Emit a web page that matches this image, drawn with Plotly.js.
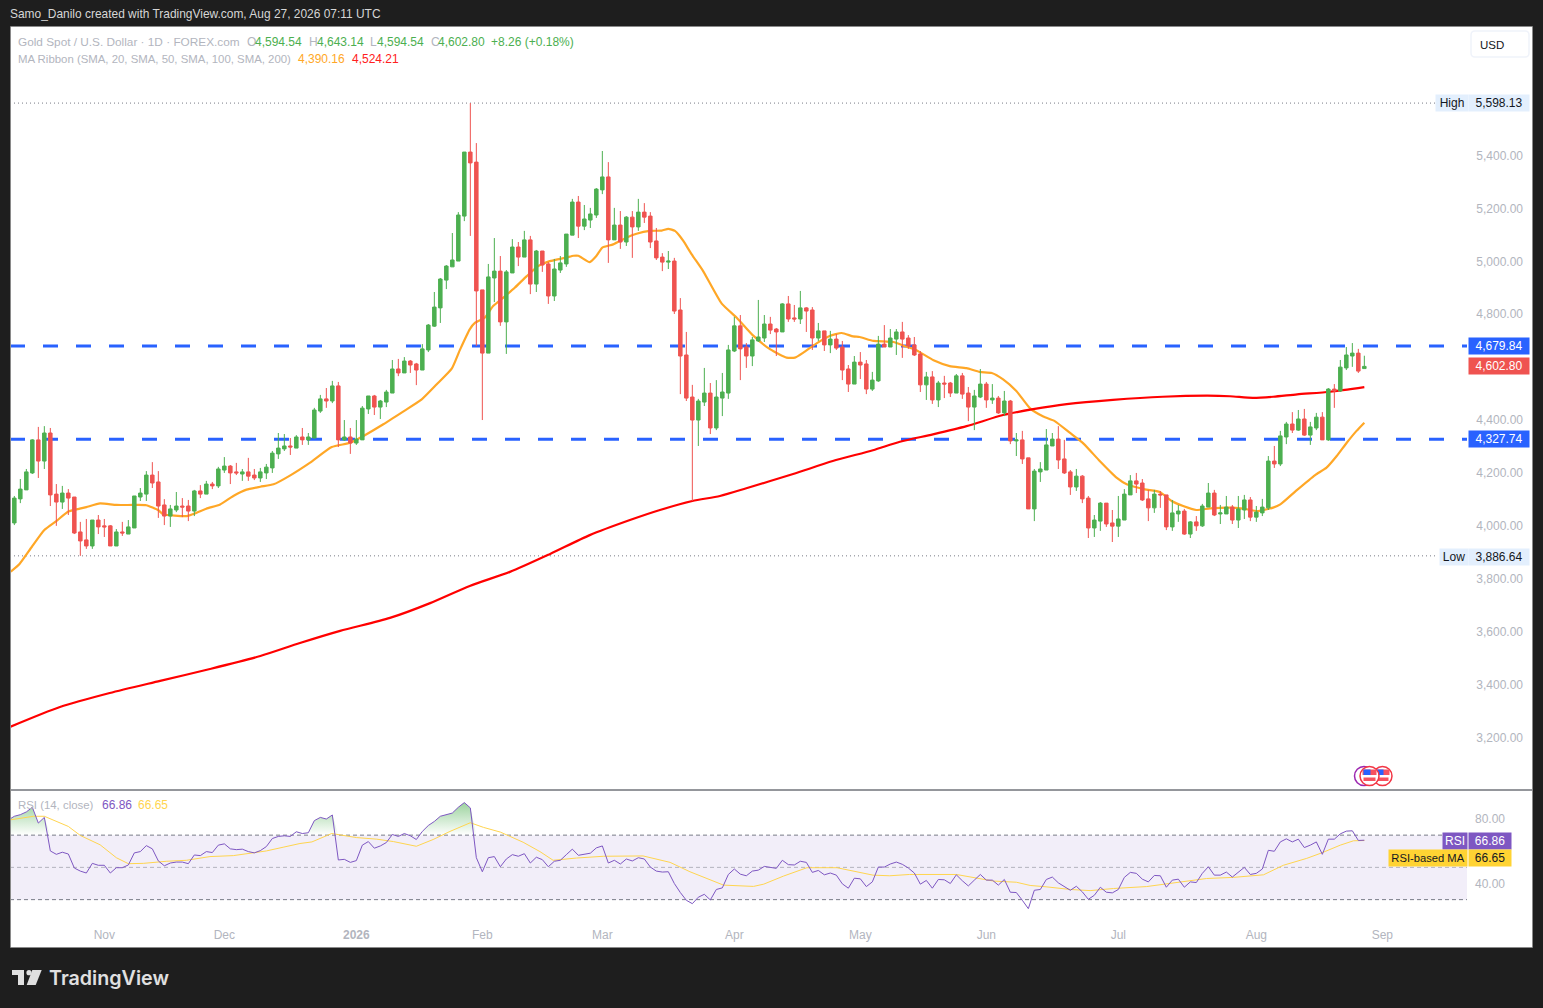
<!DOCTYPE html>
<html><head><meta charset="utf-8">
<script src="https://cdn.plot.ly/plotly-3.0.1.min.js"></script>
<style>html,body{margin:0;padding:0;background:#1e1e1e;overflow:hidden}#c{width:1543px;height:1008px}</style>
</head><body><div id="c"></div>
<script>
const open_ = [4011,4102,4136,4200,4325,4245,4351,4120,4090,4124,
4109,3977,3947,3924,4022,4000,4000,3924,3977,3969,
3992,4109,4120,4192,4166,4079,4037,4060,4075,4075,
4056,4132,4120,4158,4151,4211,4226,4204,4196,4204,
4192,4181,4200,4219,4272,4291,4302,4294,4336,4325,
4332,4434,4480,4472,4529,4325,4336,4313,4325,4442,
4491,4449,4468,4502,4593,4578,4623,4612,4589,4665,
4755,4824,4929,4979,5001,5171,5413,5375,4892,4653,
4937,4963,4771,4956,5054,5016,5081,4914,5039,4990,
4869,4967,4990,5099,5224,5133,5156,5175,5270,5319,
5081,5137,5073,5167,5130,5186,5171,5077,5016,4997,
5001,4816,4646,4487,4400,4468,4502,4370,4483,4502,
4661,4756,4676,4642,4699,4710,4763,4744,4733,4839,
4786,4782,4824,4816,4710,4737,4684,4706,4676,4593,
4536,4619,4612,4517,4548,4687,4676,4706,4733,4710,
4684,4650,4533,4563,4476,4540,4540,4502,4567,4502,
4449,4487,4536,4476,4483,4427,4472,4321,4325,4257,
4064,4204,4211,4302,4328,4253,4204,4147,4188,4105,
3992,4018,4086,4011,3999,4022,4117,4170,4162,4102,
4068,4120,4117,3996,4045,4056,3969,4015,4000,4071,
4124,4045,4045,4071,4022,4060,4098,4033,4049,4068,
4245,4234,4336,4385,4362,4404,4343,4370,4411,4325,
4517,4510,4597,4642,4653,4594.54];
const high_ = [4113,4177,4215,4328,4374,4377,4370,4158,4151,4139,
4109,4015,4026,4022,4041,4026,4003,3988,4015,4022,
4113,4143,4207,4241,4207,4101,4079,4128,4105,4098,
4136,4154,4170,4166,4223,4260,4230,4238,4215,4257,
4215,4219,4234,4283,4351,4347,4332,4343,4370,4351,
4446,4495,4521,4548,4544,4400,4370,4400,4453,4491,
4495,4476,4514,4627,4631,4638,4627,4616,4687,4763,
4884,4937,4986,5107,5186,5413,5598.13,5447,4892,4990,
5088,5020,4967,5084,5073,5115,5096,5043,5039,4997,
5009,5020,5103,5236,5247,5213,5202,5277,5417,5375,
5202,5190,5171,5190,5236,5220,5186,5126,5031,5039,
5013,4861,4733,4533,4480,4597,4540,4551,4578,4684,
4790,4797,4691,4714,4854,4797,4790,4748,4842,4869,
4835,4888,4827,4827,4767,4737,4737,4725,4699,4608,
4642,4657,4627,4582,4718,4759,4744,4744,4771,4721,
4714,4661,4582,4585,4548,4567,4544,4574,4578,4525,
4514,4593,4544,4536,4491,4510,4476,4351,4359,4257,
4215,4241,4366,4351,4377,4325,4211,4215,4192,4113,
4041,4090,4086,4060,4113,4139,4192,4200,4177,4136,
4136,4132,4117,4098,4079,4064,4018,4037,4083,4162,
4136,4079,4113,4079,4113,4117,4109,4075,4102,4264,
4302,4359,4393,4430,4438,4442,4393,4427,4430,4521,
4536,4627,4676,4691,4669,4643.14];
const low_ = [4003,4086,4136,4196,4181,4215,4075,4000,4064,4041,
3969,3886.64,3913,3913,3969,3958,3924,3924,3962,3969,
3992,4094,4094,4143,4030,4003,3996,4052,4033,4018,
4037,4105,4120,4139,4143,4200,4158,4192,4170,4170,
4173,4166,4177,4200,4253,4283,4268,4294,4306,4306,
4332,4427,4446,4464,4298,4321,4272,4306,4325,4423,
4419,4404,4449,4502,4566,4578,4578,4532,4589,4657,
4752,4767,4895,4979,5001,5152,5096,4680,4400,4653,
4846,4756,4650,4956,4982,5016,4876,4884,4960,4839,
4850,4956,4979,5099,5088,5118,5126,5164,5254,4994,
5081,5047,5058,5013,5115,5145,5050,5005,4963,4971,
4801,4498,4472,4094,4302,4453,4347,4362,4415,4480,
4657,4551,4597,4604,4695,4695,4725,4642,4733,4771,
4771,4763,4733,4665,4699,4661,4653,4665,4551,4506,
4536,4555,4498,4510,4544,4676,4676,4646,4635,4669,
4642,4506,4476,4461,4449,4483,4487,4502,4480,4396,
4362,4483,4446,4461,4423,4415,4309,4264,4234,4064,
4018,4166,4211,4302,4215,4196,4117,4132,4086,3954,
3958,3981,3996,3939,3958,4022,4117,4124,4094,4018,
4049,4068,3984,3981,4015,3966,3954,3981,3996,4071,
4037,4007,4045,4007,3992,4026,4018,4015,4037,4060,
4219,4226,4309,4351,4359,4340,4306,4362,4325,4321,
4446,4506,4589,4601,4578,4594.54];
const close_ = [4105,4139,4204,4325,4245,4351,4117,4090,4124,4105,
3973,3943,3924,4022,3996,3996,3924,3977,3973,3996,
4113,4124,4192,4162,4075,4037,4064,4075,4071,4056,
4132,4120,4158,4151,4215,4226,4200,4200,4204,4188,
4181,4204,4222,4275,4294,4302,4298,4336,4325,4336,
4438,4480,4472,4529,4325,4336,4313,4328,4445,4491,
4449,4472,4506,4593,4578,4623,4608,4589,4669,4759,
4827,4933,4982,5005,5175,5413,5372,4888,4653,4941,
4963,4771,4960,5054,5016,5081,4914,5039,4986,4869,
4971,4994,5103,5224,5133,5160,5179,5273,5319,5081,
5137,5073,5167,5130,5186,5167,5073,5013,4997,5001,
4812,4642,4483,4400,4472,4502,4370,4487,4506,4665,
4756,4669,4642,4703,4714,4763,4740,4733,4839,4782,
4782,4824,4812,4710,4737,4684,4706,4672,4589,4536,
4619,4608,4517,4551,4687,4676,4710,4733,4706,4680,
4646,4533,4563,4476,4540,4536,4502,4567,4498,4449,
4491,4536,4476,4483,4427,4472,4321,4325,4253,4064,
4207,4215,4306,4328,4249,4200,4147,4188,4102,3992,
4022,4086,4007,3999,4026,4120,4170,4158,4098,4068,
4120,4117,3996,4049,4056,3969,4015,4000,4075,4124,
4041,4049,4071,4022,4064,4098,4033,4052,4071,4245,
4234,4340,4385,4362,4404,4343,4374,4411,4325,4517,
4510,4600,4646,4653,4585,4602.80];

const ma50Bar = [-0.6,0.9,2.9,5,7,9,10.9,12,14.3,17,19.8,22,24,24.8,28.7,30.1,32,34.3,36.5,38.7,41,43.2,46,49.3,52.9,56,58.2,61.5,64.8,67.9,70.4,72.9,74.3,75.9,76.8,78.4,79.8,81.5,83.4,85.4,87.3,89,92,93.2,94,95.9,97,98,99.8,102,103.7,105.9,107.9,109,110.1,110.9,111.5,112.9,114.8,117.9,120.4,123.2,126,128.7,130.1,131.5,133.7,135.9,137.9,139.8,140.9,143.2,146.5,148.7,150.1,153.2,155.9,158.7,160.9,162.9,164.8,167,169.3,171.5,173.4,175.9,178.2,180.9,183.7,185.4,188.4,190.9,192.9,194.8,197,199.3,202.6,204.8,207.3,209.8,211,213.7,216.8,218.7,220.4,222.1,223.7,225];
const ma50Val = [3827,3857,3920,3984,4018,4054,4065,4071,4085,4079,4079,4078,4059,4044,4037,4047,4065,4081,4113,4137,4148,4157,4191,4239,4298,4314,4340,4384,4432,4478,4535,4594,4667,4743,4768,4787,4831,4863,4900,4944,4982,4999,5014,5021,5021,4997,5020,5052,5064,5089,5104,5115,5116,5123,5115,5096,5077,5026,4963,4840,4787,4718,4667,4636,4636,4655,4690,4718,4729,4716,4714,4699,4695,4677,4667,4626,4604,4596,4582,4578,4554,4510,4444,4413,4396,4352,4311,4245,4182,4157,4138,4128,4094,4075,4060,4066,4069,4065,4056,4069,4081,4134,4192,4220,4264,4315,4359,4390.16];
const ma200Bar = [-0.7,7.6,15.9,24.3,32.6,41,47.6,54.3,62.6,69.3,75.9,82.6,89.3,95.9,102.6,107.6,113,117.6,122,129.8,136.4,143.1,147.6,153.1,158.7,164.8,169.8,175.4,183.1,191.4,198.8,202.6,206.4,209.8,213.8,219.3,225];
const ma200Val = [3240,3315,3368,3414,3459,3508,3557,3603,3652,3708,3773,3826,3894,3965,4022,4060,4094,4113,4142,4196,4245,4286,4318,4346,4377,4419,4441,4460,4476,4488,4492,4490,4484,4488,4497,4507,4524.21];

const rsiVal = [79.4,81.7,82.7,84.4,87.3,77.5,81.0,60.2,58.1,59.4,58.3,49.6,47.7,46.5,52.5,51.3,51.3,46.5,49.8,49.8,51.5,59.0,59.8,63.5,61.5,54.0,51.0,52.7,53.3,53.3,52.3,57.7,57.3,59.8,59.2,63.8,64.6,61.5,61.0,61.3,59.8,59.0,60.4,62.9,67.9,69.2,69.6,69.2,72.1,71.0,71.5,79.0,81.0,80.0,82.5,54.6,55.0,53.1,54.2,63.8,66.0,61.9,63.3,65.4,70.4,69.2,71.0,69.6,67.3,72.3,76.0,78.5,81.7,82.9,83.7,87.3,90.2,86.9,56.0,47.3,56.0,56.7,50.4,55.2,57.9,56.9,58.5,52.7,56.3,54.8,50.4,53.8,54.4,57.9,61.3,57.5,58.1,58.8,62.1,63.3,52.7,54.4,52.1,55.2,54.0,56.0,55.2,50.2,47.7,47.1,47.3,40.0,34.4,29.6,27.5,31.5,33.3,29.8,36.3,37.3,45.6,49.0,45.8,44.8,47.7,48.3,50.6,49.8,49.4,54.4,51.7,51.5,53.8,53.1,46.9,48.1,45.4,46.5,45.2,39.8,37.1,43.3,42.9,38.1,41.0,50.2,50.2,52.1,53.3,51.9,49.6,46.5,39.6,41.9,37.1,42.5,42.3,40.0,45.4,41.7,38.5,42.1,45.6,42.1,42.1,39.0,42.5,34.6,34.4,29.6,24.4,35.8,36.3,42.5,44.0,40.4,37.9,35.8,38.3,34.8,30.2,32.7,37.7,34.6,34.2,36.3,43.8,46.9,46.3,42.7,41.0,45.0,44.8,37.7,42.1,42.7,37.7,41.0,40.6,46.3,50.4,45.2,45.2,47.1,44.0,47.1,50.0,45.6,46.3,49.0,60.6,60.0,65.8,67.7,65.8,67.5,62.3,63.8,65.8,58.1,67.5,67.5,70.8,72.5,72.7,66.7,66.86];
const rsiMaBar = [-1,3.2,5,9,11,14.3,17,19,21.5,25.4,28.7,32.6,36.5,39.8,42,44.8,47.6,49.6,52.9,57,60.4,63.2,67,69.8,72.6,76,78.2,81,84.8,87.6,89.8,93.7,98.2,104.8,109.3,112.6,118.2,123.2,124.9,128.2,132.1,137.1,139.8,143.1,145.9,149.2,157,160.4,163.2,167,169.3,172.1,176,179.3,183.2,188.7,193.7,198.7,203.2,208.2,211.5,215.4,217.9,221,223.2,225];
const rsiMaVal = [79.3,81.7,81.7,75.4,69.8,64.0,56.0,52.3,52.5,53.8,54.4,56.7,57.3,59.0,60.2,62.5,64.8,65.8,71.0,68.5,67.5,66.0,63.1,67.3,72.3,77.7,74.8,71.9,65.6,59.8,54.4,55.8,56.9,57.1,53.1,47.3,39.0,38.2,39.6,44.6,49.8,49.8,47.7,45.2,44.8,45.6,45.6,43.3,41.5,40.8,38.8,37.9,36.3,35.6,36.9,38.1,40.8,43.1,43.8,45.4,51.3,55.6,59.0,63.8,66.5,66.65];

const resistance = 4679.84, support = 4327.74, highPrice = 5598.13, lowPrice = 3886.64;
const rsiLevels = [70, 50, 30];
const priceTicks = [5400,5200,5000,4800,4400,4200,4000,3800,3600,3400,3200];
const priceTickText = ["5,400.00","5,200.00","5,000.00","4,800.00","4,400.00","4,200.00","4,000.00","3,800.00","3,600.00","3,400.00","3,200.00"];
const rsiTicks = [80, 40];
const rsiTickText = ["80.00","40.00"];
const monthBars = [15,35,57,78,98,120,141,162,184,207,228];
const monthText = ["Nov","Dec","<b>2026</b>","Feb","Mar","Apr","May","Jun","Jul","Aug","Sep"];

const W=1543,H=1008,L=11,R=1532,T=27,B=947,SPLIT=790,PW=R-L,PH=B-T;
const fx=p=>(p-L)/PW, fy=p=>1-(p-T)/PH;
const FONT='"Liberation Sans", Arial, sans-serif';
const barAtPx=p=>(p-14.33)/6;
const xRange=[barAtPx(L),barAtPx(R)];
const leftBar=barAtPx(10), paneEnd=barAtPx(1467), dotEnd=barAtPx(1435);
const priceRange=[5400-(SPLIT-155.5)*3.7801,5400+(155.5-T)*3.7801];
const bars=open_.map((_,i)=>i);
const rsiBars=rsiVal.map((_,i)=>i-1);
const GREEN='#4CAF50',RED='#EF5350',BLUE='#2962FF',ORANGE='#FFA726',RED2='#FF0000',PURPLE='#7E57C2',YEL='#FFD54F',GRAY='#B2B5BE';

const traces=[
 {type:'scatter',mode:'lines',x:[leftBar,paneEnd],y:[resistance,resistance],xaxis:'x',yaxis:'y',line:{color:BLUE,width:3,dash:'15px,18px'}},
 {type:'scatter',mode:'lines',x:[leftBar,paneEnd],y:[support,support],xaxis:'x',yaxis:'y',line:{color:BLUE,width:3,dash:'15px,18px'}},
 {type:'scatter',mode:'lines',x:[leftBar,dotEnd],y:[highPrice,highPrice],xaxis:'x',yaxis:'y',line:{color:'#787B86',width:1,dash:'1px,3px'}},
 {type:'scatter',mode:'lines',x:[leftBar,dotEnd],y:[lowPrice,lowPrice],xaxis:'x',yaxis:'y',line:{color:'#787B86',width:1,dash:'1px,3px'}},
 {type:'scatter',mode:'lines',x:ma50Bar,y:ma50Val,xaxis:'x',yaxis:'y',line:{color:ORANGE,width:2.2,shape:'spline',smoothing:0.5}},
 {type:'scatter',mode:'lines',x:ma200Bar,y:ma200Val,xaxis:'x',yaxis:'y',line:{color:RED2,width:2.2,shape:'spline',smoothing:0.7}},
 {type:'candlestick',x:bars,open:open_,high:high_,low:low_,close:close_,xaxis:'x',yaxis:'y3',whiskerwidth:0,
  increasing:{line:{color:GREEN,width:1},fillcolor:GREEN},decreasing:{line:{color:RED,width:1},fillcolor:RED}},
 {type:'scatter',mode:'lines',x:rsiBars,y:rsiVal.map(()=>rsiLevels[0]),xaxis:'x',yaxis:'y2',line:{width:0},fill:'none'},
 {type:'scatter',mode:'lines',x:rsiBars,y:rsiVal.map(v=>Math.max(v,rsiLevels[0])),xaxis:'x',yaxis:'y2',line:{width:0},fill:'tonexty',
  fillgradient:{type:'vertical',start:90,stop:70,colorscale:[[0,'rgba(76,175,80,0.55)'],[1,'rgba(76,175,80,0)']]}},
 {type:'scatter',mode:'lines',x:rsiMaBar,y:rsiMaVal,xaxis:'x',yaxis:'y2',line:{color:YEL,width:1}},
 {type:'scatter',mode:'lines',x:rsiBars,y:rsiVal,xaxis:'x',yaxis:'y2',line:{color:PURPLE,width:1}}
];

const pxRect=(x0,y0,x1,y1,fill,line,lw)=>({type:'rect',xref:'paper',yref:'paper',x0:fx(x0),x1:fx(x1),y0:fy(y0),y1:fy(y1),fillcolor:fill,line:{color:line||fill,width:lw===undefined?0:lw},layer:'above'});
const pxPath=(pts,fill)=>({type:'path',xref:'paper',yref:'paper',path:'M'+pts.map(p=>fx(p[0])+','+fy(p[1])).join('L')+'Z',fillcolor:fill,line:{width:0},layer:'above'});
const pxCircle=(cx,cy,r,fill,line,lw)=>({type:'circle',xref:'paper',yref:'paper',x0:fx(cx-r),x1:fx(cx+r),y0:fy(cy+r),y1:fy(cy-r),fillcolor:fill,line:{color:line,width:lw},layer:'above'});
function roundBox(x0,y0,x1,y1,r,line){
  const P=(x,y)=>fx(x)+','+fy(y);
  return {type:'path',xref:'paper',yref:'paper',layer:'above',fillcolor:'#ffffff',line:{color:line,width:1.5},
   path:`M${P(x0+r,y0)}L${P(x1-r,y0)}Q${P(x1,y0)} ${P(x1,y0+r)}L${P(x1,y1-r)}Q${P(x1,y1)} ${P(x1-r,y1)}L${P(x0+r,y1)}Q${P(x0,y1)} ${P(x0,y1-r)}L${P(x0,y0+r)}Q${P(x0,y0)} ${P(x0+r,y0)}Z`};
}
function flag(cx,cy,ring){
  return [pxCircle(cx,cy,9.5,'#ffffff',ring,1.5),
    pxRect(cx-7,cy-6.5,cx+7,cy-1,'#F7525F'),
    pxRect(cx-6,cy-6.5,cx+1,cy-0.5,BLUE),
    pxRect(cx-7,cy-1,cx+7,cy+1.5,'#ffffff'),
    pxRect(cx-6,cy+1.5,cx+6,cy+5,'#F7525F')];
}
const shapes=[
 {type:'rect',xref:'x',yref:'y2',x0:leftBar,x1:paneEnd,y0:rsiLevels[2],y1:rsiLevels[0],fillcolor:'rgba(126,87,194,0.1)',line:{width:0},layer:'below'},
 {type:'line',xref:'x',yref:'y2',x0:leftBar,x1:paneEnd,y0:rsiLevels[0],y1:rsiLevels[0],line:{color:'#787B86',width:1,dash:'4px,3px'},layer:'below'},
 {type:'line',xref:'x',yref:'y2',x0:leftBar,x1:paneEnd,y0:rsiLevels[1],y1:rsiLevels[1],line:{color:'rgba(120,123,134,0.5)',width:1,dash:'4px,3px'},layer:'below'},
 {type:'line',xref:'x',yref:'y2',x0:leftBar,x1:paneEnd,y0:rsiLevels[2],y1:rsiLevels[2],line:{color:'#787B86',width:1,dash:'4px,3px'},layer:'below'},
 {type:'line',xref:'paper',yref:'paper',x0:0,x1:1,y0:fy(SPLIT),y1:fy(SPLIT),line:{color:'#2A2E39',width:1},layer:'above'},
 {type:'rect',xref:'paper',yref:'paper',x0:fx(10.5),x1:fx(1532.5),y0:fy(947.5),y1:fy(26.5),fillcolor:'rgba(0,0,0,0)',line:{color:'#8a8a8a',width:1},layer:'above'},
 roundBox(1471,31,1529,57,4,'#F0F3FA'),
 pxCircle(1364,776,9.5,'#ffffff','#9C27B0',1.5),
 ...flag(1382.5,776,'#F23645'),
 ...flag(1369.5,776,'#F23645'),
 pxPath([[12,970],[24,970],[24,985],[18,985],[18,975],[12,975]],'#E0E0E0'),
 pxCircle(29,972.7,2.6,'#E0E0E0','#E0E0E0',0),
 pxPath([[32.3,970],[41.7,970],[35.7,985],[26.7,985]],'#E0E0E0')
];
const T_=(x,y,text,color,size,extra)=>Object.assign({xref:'paper',yref:'paper',x:fx(x),y:fy(y),text,showarrow:false,xanchor:'left',yanchor:'middle',
  font:{family:FONT,size:size||12,color},borderpad:0},extra||{});
const TAG=(x0,x1,yc,h,text,bg,color,size)=>({xref:'paper',yref:'paper',x:fx(x0),y:fy(yc),text,showarrow:false,xanchor:'left',yanchor:'middle',
  width:x1-x0,height:h,bgcolor:bg,font:{family:FONT,size:size||12,color},align:'center',borderpad:0,valign:'middle'});
const annotations=[
 T_(9,14,'Samo_Danilo created with TradingView.com, Aug 27, 2026 07:11 UTC','#D6D6D6',11.95),
 T_(17,42,'Gold Spot / U.S. Dollar · 1D · FOREX.com',GRAY,11.8),
 T_(246,42,'O',GRAY),T_(254,42,'4,594.54',GREEN),
 T_(308,42,'H',GRAY),T_(316,42,'4,643.14',GREEN),
 T_(369,42,'L',GRAY),T_(376,42,'4,594.54',GREEN),
 T_(430,42,'C',GRAY),T_(437,42,'4,602.80',GREEN),
 T_(490,42,'+8.26 (+0.18%)',GREEN),
 T_(17,59,'MA Ribbon (SMA, 20, SMA, 50, SMA, 100, SMA, 200)',GRAY,11.4),
 T_(297,59,'4,390.16',ORANGE),T_(351,59,'4,524.21','#FF2020'),
 T_(1479,44.5,'USD','#131722',11.5),
 T_(17,805,'RSI (14, close)',GRAY,11.4),T_(101,805,'66.86',PURPLE),T_(137,805,'66.65',YEL),
 TAG(1435,1467,103,16,'High','#E3EFFD','#131722'),
 TAG(1468,1528,103,16,'5,598.13','#E3EFFD','#131722'),
 TAG(1439,1467,556.5,16,'Low','#E3EFFD','#131722'),
 TAG(1468,1528,556.5,16,'3,886.64','#E3EFFD','#131722'),
 TAG(1468,1528,346,16,'4,679.84',BLUE,'#ffffff'),
 TAG(1468,1528,366,16,'4,602.80',RED,'#ffffff'),
 TAG(1468,1528,439,16,'4,327.74',BLUE,'#ffffff'),
 TAG(1442,1466,841,16,'RSI',PURPLE,'#ffffff'),
 TAG(1468,1510,841,16,'66.86',PURPLE,'#ffffff'),
 TAG(1388,1466,858,16,'RSI-based MA','#FFD333','#131722',11.2),
 TAG(1468,1510,858,16,'66.65','#FFD333','#131722'),
 {xref:'paper',yref:'paper',x:fx(47),y:fy(978),text:'TradingView',showarrow:false,xanchor:'left',yanchor:'middle',
  font:{family:'Inter, Roboto, sans-serif',size:19.7,color:'#E0E0E0',weight:600}}
];
const split=(B-SPLIT)/PH;
const layout={
 width:W,height:H,margin:{l:L,r:W-R,t:T,b:H-B,pad:0},paper_bgcolor:'#1E1E1E',plot_bgcolor:'#FFFFFF',showlegend:false,hovermode:false,boxgap:0.17,
 font:{family:FONT,size:12,color:GRAY},
 xaxis:{type:'linear',range:xRange,anchor:'y2',domain:[0,1],side:'bottom',showgrid:false,zeroline:false,showline:false,ticks:'',tickmode:'array',tickvals:monthBars,ticktext:monthText,
   ticklabelposition:'inside',ticklabelstandoff:3,tickfont:{family:FONT,size:12,color:GRAY},rangeslider:{visible:false}},
 yaxis:{domain:[split,1],range:priceRange,side:'right',anchor:'x',showgrid:false,zeroline:false,showline:false,ticks:'',tickmode:'array',tickvals:priceTicks,ticktext:priceTickText,
   ticklabelposition:'inside',ticklabelstandoff:6,tickfont:{family:FONT,size:12,color:GRAY}},
 yaxis3:{domain:[split,1],range:priceRange,overlaying:'y',side:'right',anchor:'x',visible:false,showgrid:false,zeroline:false},
 yaxis2:{domain:[0,split],range:[0.62,98],side:'right',anchor:'x',showgrid:false,zeroline:false,showline:false,ticks:'',tickmode:'array',tickvals:rsiTicks,ticktext:rsiTickText,
   ticklabelposition:'inside',ticklabelstandoff:24,tickfont:{family:FONT,size:12,color:GRAY}},
 shapes,annotations
};
Plotly.newPlot('c',traces,layout,{displayModeBar:false,staticPlot:true,responsive:false});
</script></body></html>
